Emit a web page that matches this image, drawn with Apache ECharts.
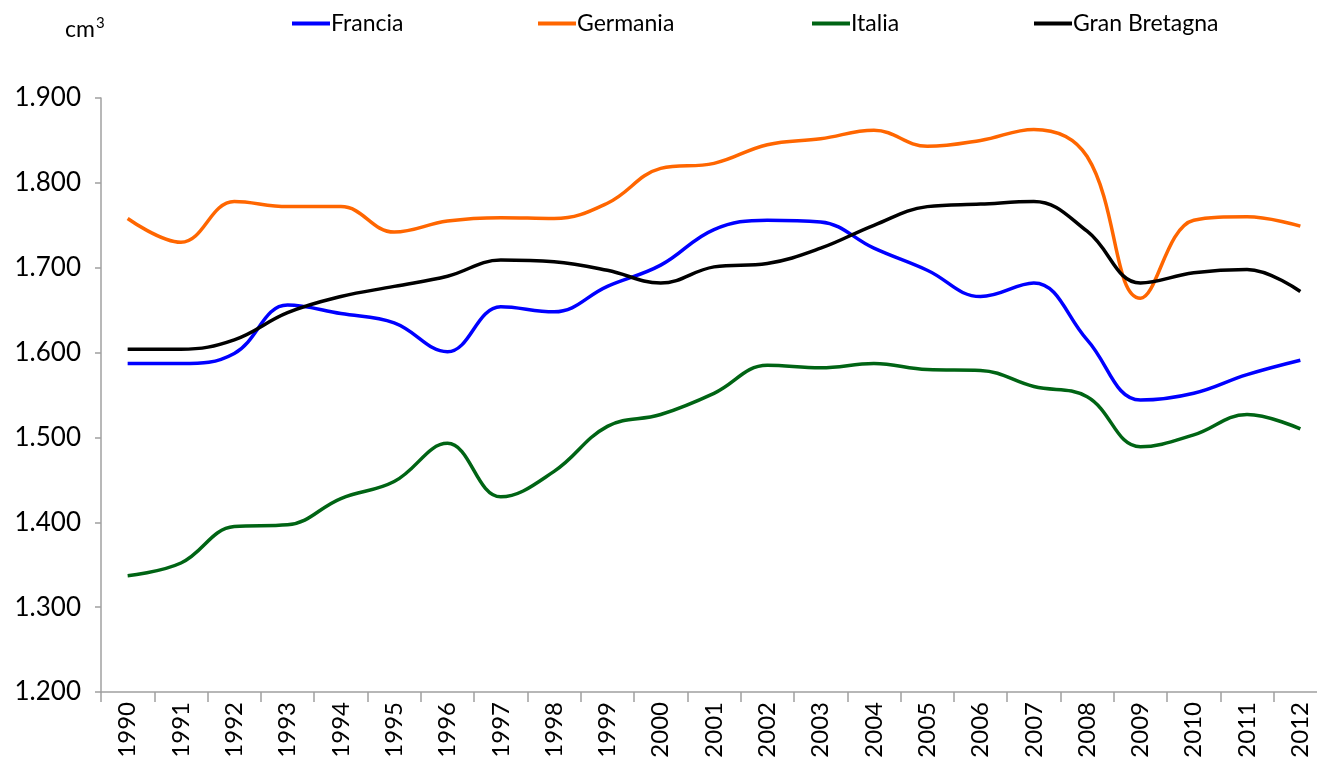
<!DOCTYPE html>
<html>
<head>
<meta charset="utf-8">
<script src="https://cdn.jsdelivr.net/npm/echarts@6/dist/echarts.min.js"></script>
<style>
  html, body { margin: 0; padding: 0; background: #fff; }
  #chart { width: 1317px; height: 769px; }
</style>
</head>
<body>
<div id="chart"></div>
<script>
const years = ['1990', '1991', '1992', '1993', '1994', '1995', '1996', '1997', '1998', '1999', '2000',
  '2001', '2002', '2003', '2004', '2005', '2006', '2007', '2008', '2009', '2010', '2011', '2012']

const francia = [1587, 1587, 1599, 1656, 1646, 1635, 1601, 1654, 1648, 1678, 1703,
  1745, 1756, 1754, 1723, 1697, 1666, 1682, 1615, 1544, 1552, 1574, 1591]
const germania = [1758, 1730, 1778, 1772, 1772, 1742, 1755, 1759, 1758, 1776, 1817,
  1823, 1845, 1852, 1862, 1843, 1850, 1863, 1831, 1664, 1756, 1760, 1749]
const italia = [1337, 1352, 1395, 1397, 1428, 1448, 1493, 1430, 1460, 1513, 1527,
  1552, 1585, 1582, 1587, 1580, 1579, 1560, 1548, 1489, 1503, 1527, 1510]
const granBretagna = [1604, 1604, 1615, 1647, 1666, 1678, 1690, 1709, 1707, 1697, 1682,
  1701, 1705, 1723, 1750, 1772, 1775, 1778, 1743, 1682, 1694, 1698, 1672]

const FONT = 'Lato'
const chart = echarts.init(document.getElementById('chart'))

function line(name, data, color) {
  return {
    name: name,
    type: 'line',
    data: data,
    smooth: 0.4,
    symbol: 'none',
    lineStyle: { width: 3.5, color: color },
    itemStyle: { color: color }
  }
}

// one legend per entry so each sits where it does in the original
function legendAt(name, left) {
  return {
    top: 7,
    left: left,
    icon: 'rect',
    itemWidth: 38,
    itemHeight: 4,
    textStyle: { fontFamily: FONT, fontSize: 23, color: '#000', padding: [0, 0, 0, -4] },
    data: [name]
  }
}

chart.setOption({
  animation: false,
  backgroundColor: '#fff',
  textStyle: { fontFamily: FONT },
  legend: [
    legendAt('Francia', 287),
    legendAt('Germania', 533),
    legendAt('Italia', 807),
    legendAt('Gran Bretagna', 1029)
  ],
  graphic: [{
    type: 'text',
    left: 65,
    top: 16,
    style: {
      text: '{b|cm}{s|3}',
      rich: {
        b: { fontFamily: FONT, fontSize: 23, fill: '#000', color: '#000' },
        s: { fontFamily: FONT, fontSize: 15, color: '#000', padding: [0, 0, 12, 1] }
      }
    }
  }],
  // the last category runs past the right edge of the picture in the original
  grid: { left: 101, right: -10, top: 98, bottom: 77, outerBoundsMode: 'none' },
  xAxis: {
    type: 'category',
    data: years,
    boundaryGap: true,
    axisLine: { lineStyle: { color: '#a0a0a0', width: 1.5 } },
    axisTick: { show: true, length: 10, lineStyle: { color: '#a0a0a0', width: 1.5 } },
    axisLabel: { rotate: 90, fontFamily: FONT, fontSize: 24, color: '#000', margin: 10 },
    splitLine: { show: false }
  },
  yAxis: {
    type: 'value',
    min: 1200,
    max: 1900,
    interval: 100,
    axisLine: { show: true, lineStyle: { color: '#a0a0a0', width: 1.5 } },
    axisTick: { show: true, length: 6, lineStyle: { color: '#a0a0a0', width: 1.5 } },
    axisLabel: {
      fontFamily: FONT, fontSize: 26, color: '#000', margin: 20,
      formatter: v => String(v).replace(/\B(?=(\d{3})+(?!\d))/g, '.')
    },
    splitLine: { show: false }
  },
  series: [
    line('Francia', francia, '#0000ff'),
    line('Germania', germania, '#ff6600'),
    line('Italia', italia, '#006414'),
    line('Gran Bretagna', granBretagna, '#000000')
  ]
})
</script>
</body>
</html>
